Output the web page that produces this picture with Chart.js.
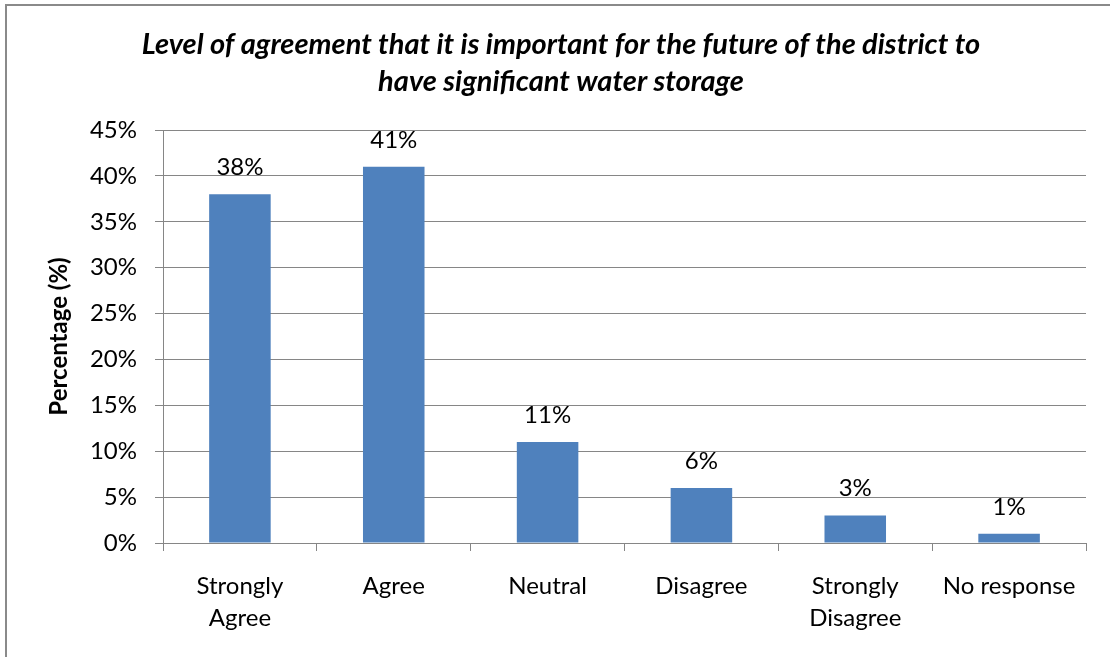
<!DOCTYPE html>
<html>
<head>
<meta charset="utf-8">
<title>Water storage agreement</title>
<script src="https://cdn.jsdelivr.net/npm/chart.js@4.4.0/dist/chart.umd.js"></script>
<style>
    html, body { margin: 0; padding: 0; background: #fff; }
    #wrap { width: 1110px; height: 657px; }
</style>
</head>
<body>
<div id="wrap"><canvas id="chart" width="1110" height="657"></canvas></div>
<script>
const categories = [['Strongly', 'Agree'], 'Agree', 'Neutral', 'Disagree', ['Strongly', 'Disagree'], 'No response'];
const percentages = [38, 41, 11, 6, 3, 1];
const yTicks = [0, 5, 10, 15, 20, 25, 30, 35, 40, 45];
const titleLines = [
    'Level of agreement that it is important for the future of the district to',
    'have significant water storage'
];
const yAxisTitle = 'Percentage (%)';

const FONT = 'Lato, "Open Sans", sans-serif';
const GRID = '#868686';

// grey frame around the whole chart (only top and left edges are inside the canvas)
const framePlugin = {
    id: 'frame',
    beforeDraw(chart) {
        const c = chart.ctx;
        c.save();
        c.strokeStyle = '#8a8a8a';
        c.lineWidth = 2;
        c.beginPath();
        c.moveTo(6, chart.height);
        c.lineTo(6, 5);
        c.lineTo(chart.width, 5);
        c.stroke();
        c.restore();
    }
};

// value labels above each bar
const barLabels = {
    id: 'barLabels',
    afterDatasetsDraw(chart) {
        const c = chart.ctx;
        const meta = chart.getDatasetMeta(0);
        c.save();
        c.font = '24px ' + FONT;
        c.fillStyle = '#000';
        c.textAlign = 'center';
        c.textBaseline = 'alphabetic';
        meta.data.forEach((bar, i) => {
            const v = chart.data.datasets[0].data[i];
            c.fillText(Math.round(v) + '%', bar.x, bar.y - 19);
        });
        c.restore();
    }
};

new Chart(document.getElementById('chart'), {
    type: 'bar',
    data: {
        labels: categories,
        datasets: [{
            data: percentages,
            backgroundColor: '#4F81BD',
            borderWidth: 0,
            barPercentage: 0.4,
            categoryPercentage: 1
        }]
    },
    options: {
        responsive: false,
        animation: false,
        layout: { padding: { top: 0, left: 36, right: 24, bottom: 0 } },
        plugins: {
            legend: { display: false },
            tooltip: { enabled: false },
            title: {
                display: true,
                text: titleLines,
                color: '#000',
                font: { family: FONT, size: 29, weight: 'bold', style: 'italic', lineHeight: '37px' },
                padding: { top: 26.5, bottom: 29.5 }
            }
        },
        scales: {
            x: {
                grid: {
                    display: true,
                    drawOnChartArea: false,
                    drawTicks: true,
                    tickLength: 8,
                    color: GRID,
                    offset: true
                },
                border: { display: true, color: GRID, width: 1 },
                ticks: {
                    color: '#000',
                    font: { family: FONT, size: 24, lineHeight: '32px' },
                    padding: 19,
                    maxRotation: 0,
                    autoSkip: false
                },
                afterFit(scale) { scale.height = 114; }
            },
            y: {
                min: 0,
                max: 45,
                afterBuildTicks(scale) { scale.ticks = yTicks.map(v => ({ value: v })); },
                grid: { color: GRID, lineWidth: 1, tickLength: 8 },
                border: { display: true, color: GRID, width: 1 },
                ticks: {
                    color: '#000',
                    font: { family: FONT, size: 24 },
                    padding: 18,
                    callback: v => v + '%'
                },
                title: {
                    display: true,
                    text: yAxisTitle,
                    color: '#000',
                    font: { family: FONT, size: 24, weight: 'bold' },
                    padding: { top: 8.6, bottom: 0 }
                },
                afterFit(scale) { scale.width = 127; }
            }
        }
    },
    plugins: [framePlugin, barLabels]
});
</script>
</body>
</html>
